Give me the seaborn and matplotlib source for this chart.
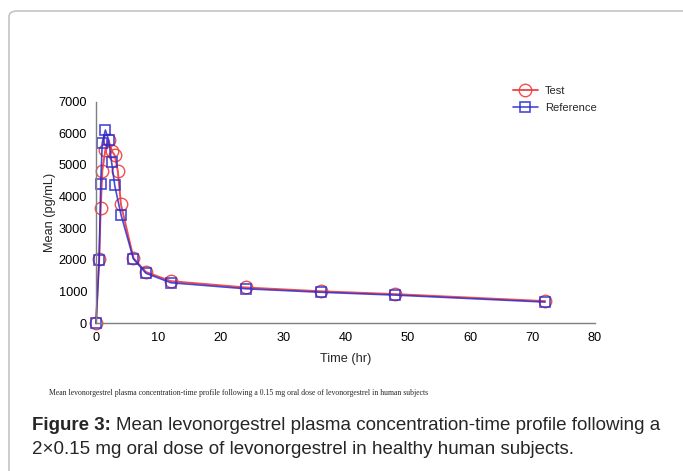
import pandas as pd
import matplotlib.pyplot as plt
import seaborn as sns
from matplotlib.patches import FancyBboxPatch

# Mean plasma concentration (pg/mL)
test_time = [0, 0.5, 0.75, 1, 1.5, 2, 2.5, 3, 3.5, 4, 6, 8, 12, 24, 36, 48, 72]
test_conc = [0, 2020, 3630, 4800, 5480, 5780, 5450, 5300, 4800, 3750,
             2060, 1620, 1330, 1130, 1010, 920, 700]

ref_time = [0, 0.5, 0.75, 1, 1.5, 2, 2.5, 3, 4, 6, 8, 12, 24, 36, 48, 72]
ref_conc = [0, 2000, 4400, 5700, 6100, 5800, 5080, 4350, 3430,
            2030, 1580, 1280, 1090, 980, 890, 670]

x_ticks = [0, 10, 20, 30, 40, 50, 60, 70, 80]
y_ticks = [0, 1000, 2000, 3000, 4000, 5000, 6000, 7000]

caption_small = ("Mean levonorgestrel plasma concentration-time profile following "
                 "a 0.15 mg oral dose of levonorgestrel in human subjects")
caption_line1 = "Mean levonorgestrel plasma concentration-time profile following a"
caption_line2 = "2\u00d70.15 mg oral dose of levonorgestrel in healthy human subjects."

test_df = pd.DataFrame({"time": test_time, "conc": test_conc})
ref_df = pd.DataFrame({"time": ref_time, "conc": ref_conc})

sns.set_theme(style="white")
plt.rcParams["font.family"] = ["Liberation Sans", "DejaVu Sans"]

fig = plt.figure(figsize=(6.83, 4.71), dpi=100)
ax = fig.add_axes([0.1406, 0.3136, 0.7305, 0.4709])

red = "#f03c3c"
blue = "#2b2bd0"
sns.lineplot(data=test_df, x="time", y="conc", ax=ax, color=red, lw=1.4,
             marker="o", ms=9, mfc="none", mec=red, mew=1.0, label="Test",
             clip_on=False, alpha=0.9)
sns.lineplot(data=ref_df, x="time", y="conc", ax=ax, color=blue, lw=1.2,
             marker="s", ms=7, mfc="none", mec=blue, mew=1.2, label="Reference",
             clip_on=False, alpha=0.85)

ax.set_xlim(0, 80)
ax.set_ylim(0, 7000)
ax.set_xticks(x_ticks)
ax.set_yticks(y_ticks)
ax.tick_params(axis="both", direction="inout", length=7, width=1,
               color="#7f7f7f", labelsize=9.2, labelcolor="black", pad=3)
for side in ["top", "right"]:
    ax.spines[side].set_visible(False)
for side in ["left", "bottom"]:
    ax.spines[side].set_color("#7f7f7f")
    ax.spines[side].set_linewidth(1)
ax.set_xlabel("Time (hr)", fontsize=9.2, labelpad=6)
ax.set_ylabel("Mean (pg/mL)", fontsize=9.2, labelpad=2)

ax.legend(loc="upper left", bbox_to_anchor=(0.815, 1.114), frameon=False,
          fontsize=8, handlelength=2.3, handletextpad=0.6, labelspacing=0.57)

# card border
fig.patches.append(FancyBboxPatch((9 / 683, -0.05), 1.0, 1 - 11 / 471 + 0.05,
                                  boxstyle="round,pad=0,rounding_size=0.012",
                                  transform=fig.transFigure, fill=False,
                                  ec="#c4c4c4", lw=1.2))

fig.text(49 / 683, 1 - 393 / 471, caption_small, fontsize=5.6,
         family=["Liberation Serif"], va="center")
bold = fig.text(32 / 683, 1 - 426 / 471, "Figure 3:", fontsize=13.5,
                fontweight="bold", va="center")
ax.annotate(caption_line1, xy=(1, 0.5), xycoords=bold, xytext=(4, 0),
            textcoords="offset points", fontsize=13.5, va="center",
            annotation_clip=False)
fig.text(32 / 683, 1 - 450 / 471, caption_line2, fontsize=13.5, va="center")

fig.savefig("out.png", dpi=100)
